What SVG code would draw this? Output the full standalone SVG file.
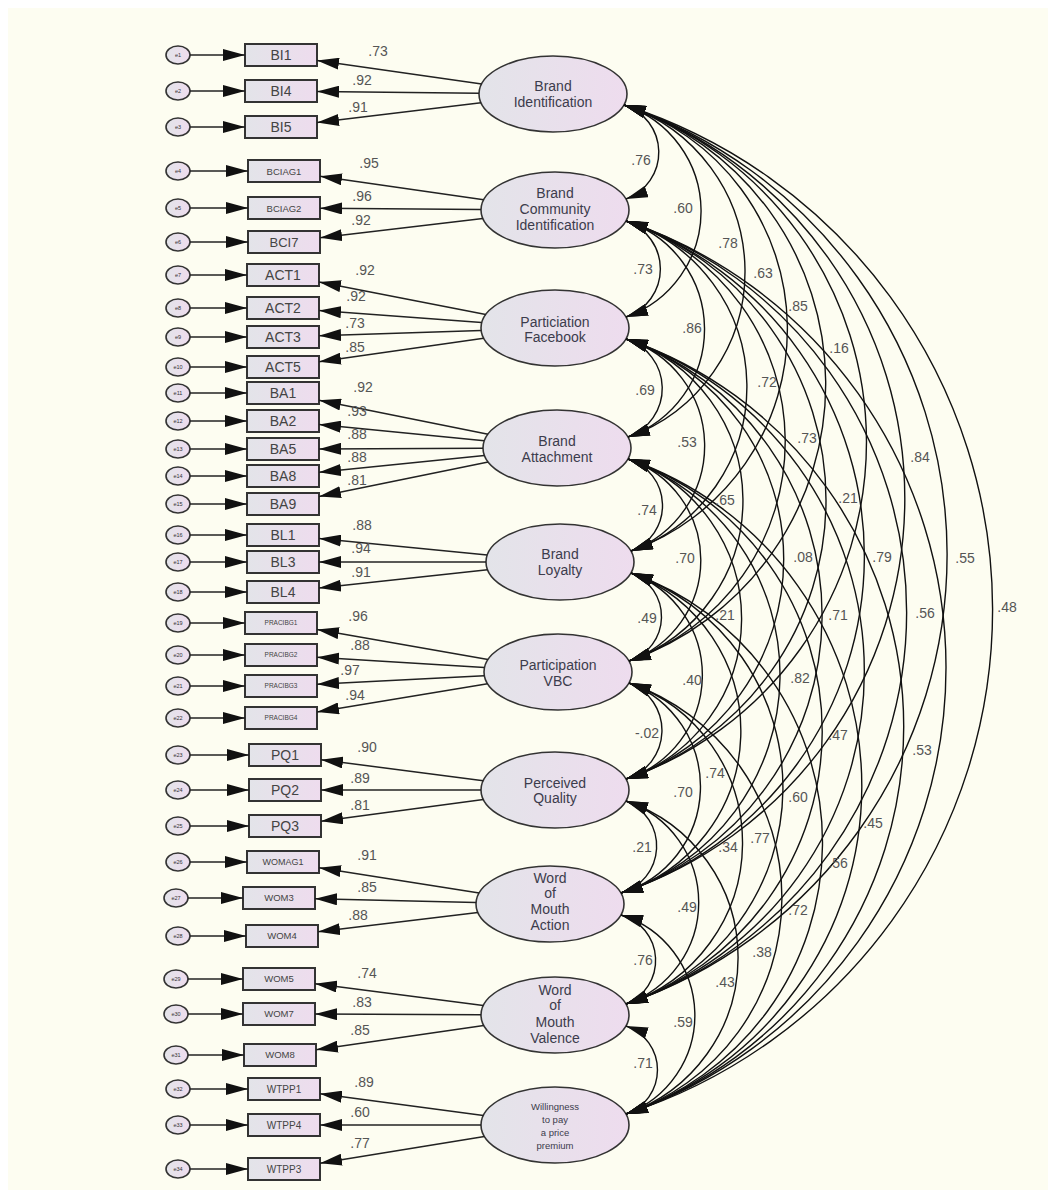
<svg xmlns="http://www.w3.org/2000/svg" width="1055" height="1197" viewBox="0 0 1055 1197">
<defs>
<linearGradient id="fillg" x1="0" y1="0" x2="1" y2="0">
<stop offset="0" stop-color="#e3e4e9"/>
<stop offset="1" stop-color="#eedcee"/>
</linearGradient>
<marker id="ah" viewBox="0 0 22 12" markerWidth="22" markerHeight="12" refX="22" refY="6" orient="auto-start-reverse" markerUnits="userSpaceOnUse">
<path d="M0,0 L22,6 L0,12 Z" fill="#111"/>
</marker>
</defs>
<style>
text{font-family:"Liberation Sans",Arial,sans-serif;text-anchor:middle}
.err{fill:url(#fillg);stroke:#333;stroke-width:1.6}
.box{fill:url(#fillg);stroke:#333;stroke-width:2}
.lat{fill:url(#fillg);stroke:#333;stroke-width:1.6}
.el{font-size:5.5px;fill:#333}
.bl{fill:#444}
.ll{font-size:14px;fill:#3c3c4c}
.lls{font-size:9.5px;fill:#3c3c4c}
.arr{fill:none;stroke:#222;stroke-width:1.5;marker-end:url(#ah)}
.cov{fill:none;stroke:#111;stroke-width:1.4;marker-start:url(#ah);marker-end:url(#ah)}
.lab{font-size:14px;fill:#555}
</style>
<rect width="1055" height="1197" fill="#ffffff"/>
<rect x="8" y="8" width="1040" height="1182" fill="#fdfdf1"/>

<g id="nodes">
<g id="e1"><ellipse class="err" cx="178" cy="55" rx="12" ry="9"/><text class="el" x="178" y="57">e1</text></g>
<g id="e2"><ellipse class="err" cx="178" cy="91" rx="12" ry="9"/><text class="el" x="178" y="93">e2</text></g>
<g id="e3"><ellipse class="err" cx="178" cy="127" rx="12" ry="9"/><text class="el" x="178" y="129">e3</text></g>
<g id="e4"><ellipse class="err" cx="178" cy="171" rx="12" ry="9"/><text class="el" x="178" y="173">e4</text></g>
<g id="e5"><ellipse class="err" cx="178" cy="208" rx="12" ry="9"/><text class="el" x="178" y="210">e5</text></g>
<g id="e6"><ellipse class="err" cx="178" cy="242" rx="12" ry="9"/><text class="el" x="178" y="244">e6</text></g>
<g id="e7"><ellipse class="err" cx="178" cy="275" rx="12" ry="9"/><text class="el" x="178" y="277">e7</text></g>
<g id="e8"><ellipse class="err" cx="178" cy="308" rx="12" ry="9"/><text class="el" x="178" y="310">e8</text></g>
<g id="e9"><ellipse class="err" cx="178" cy="337" rx="12" ry="9"/><text class="el" x="178" y="339">e9</text></g>
<g id="e10"><ellipse class="err" cx="178" cy="367" rx="12" ry="9"/><text class="el" x="178" y="369">e10</text></g>
<g id="e11"><ellipse class="err" cx="178" cy="393" rx="12" ry="9"/><text class="el" x="178" y="395">e11</text></g>
<g id="e12"><ellipse class="err" cx="178" cy="421" rx="12" ry="9"/><text class="el" x="178" y="423">e12</text></g>
<g id="e13"><ellipse class="err" cx="178" cy="449" rx="12" ry="9"/><text class="el" x="178" y="451">e13</text></g>
<g id="e14"><ellipse class="err" cx="178" cy="476" rx="12" ry="9"/><text class="el" x="178" y="478">e14</text></g>
<g id="e15"><ellipse class="err" cx="178" cy="504" rx="12" ry="9"/><text class="el" x="178" y="506">e15</text></g>
<g id="e16"><ellipse class="err" cx="178" cy="535" rx="12" ry="9"/><text class="el" x="178" y="537">e16</text></g>
<g id="e17"><ellipse class="err" cx="178" cy="562" rx="12" ry="9"/><text class="el" x="178" y="564">e17</text></g>
<g id="e18"><ellipse class="err" cx="178" cy="592" rx="12" ry="9"/><text class="el" x="178" y="594">e18</text></g>
<g id="e19"><ellipse class="err" cx="178" cy="623" rx="12" ry="9"/><text class="el" x="178" y="625">e19</text></g>
<g id="e20"><ellipse class="err" cx="178" cy="655" rx="12" ry="9"/><text class="el" x="178" y="657">e20</text></g>
<g id="e21"><ellipse class="err" cx="178" cy="686" rx="12" ry="9"/><text class="el" x="178" y="688">e21</text></g>
<g id="e22"><ellipse class="err" cx="178" cy="718" rx="12" ry="9"/><text class="el" x="178" y="720">e22</text></g>
<g id="e23"><ellipse class="err" cx="178" cy="755" rx="12" ry="9"/><text class="el" x="178" y="757">e23</text></g>
<g id="e24"><ellipse class="err" cx="178" cy="790" rx="12" ry="9"/><text class="el" x="178" y="792">e24</text></g>
<g id="e25"><ellipse class="err" cx="178" cy="826" rx="12" ry="9"/><text class="el" x="178" y="828">e25</text></g>
<g id="e26"><ellipse class="err" cx="178" cy="862" rx="12" ry="9"/><text class="el" x="178" y="864">e26</text></g>
<g id="e27"><ellipse class="err" cx="176" cy="898" rx="12" ry="9"/><text class="el" x="176" y="900">e27</text></g>
<g id="e28"><ellipse class="err" cx="178" cy="936" rx="12" ry="9"/><text class="el" x="178" y="938">e28</text></g>
<g id="e29"><ellipse class="err" cx="176" cy="979" rx="12" ry="9"/><text class="el" x="176" y="981">e29</text></g>
<g id="e30"><ellipse class="err" cx="176" cy="1014" rx="12" ry="9"/><text class="el" x="176" y="1016">e30</text></g>
<g id="e31"><ellipse class="err" cx="176" cy="1055" rx="12" ry="9"/><text class="el" x="176" y="1057">e31</text></g>
<g id="e32"><ellipse class="err" cx="178" cy="1089" rx="12" ry="9"/><text class="el" x="178" y="1091">e32</text></g>
<g id="e33"><ellipse class="err" cx="178" cy="1125" rx="12" ry="9"/><text class="el" x="178" y="1127">e33</text></g>
<g id="e34"><ellipse class="err" cx="178" cy="1169" rx="12" ry="9"/><text class="el" x="178" y="1171">e34</text></g>

<g id="BI1"><rect class="box" x="245" y="44" width="72" height="22"/><text class="bl" x="281" y="60" font-size="14">BI1</text></g>
<g id="BI4"><rect class="box" x="245" y="80" width="72" height="22"/><text class="bl" x="281" y="96" font-size="14">BI4</text></g>
<g id="BI5"><rect class="box" x="245" y="116" width="72" height="22"/><text class="bl" x="281" y="132" font-size="14">BI5</text></g>
<g id="BCIAG1"><rect class="box" x="248" y="160" width="72" height="22"/><text class="bl" x="284" y="174.5" font-size="9.5">BCIAG1</text></g>
<g id="BCIAG2"><rect class="box" x="248" y="197" width="72" height="22"/><text class="bl" x="284" y="211.5" font-size="9.5">BCIAG2</text></g>
<g id="BCI7"><rect class="box" x="248" y="231" width="72" height="22"/><text class="bl" x="284" y="246.5" font-size="13">BCI7</text></g>
<g id="ACT1"><rect class="box" x="247" y="264" width="72" height="22"/><text class="bl" x="283" y="280" font-size="14">ACT1</text></g>
<g id="ACT2"><rect class="box" x="247" y="297" width="72" height="22"/><text class="bl" x="283" y="313" font-size="14">ACT2</text></g>
<g id="ACT3"><rect class="box" x="247" y="326" width="72" height="22"/><text class="bl" x="283" y="342" font-size="14">ACT3</text></g>
<g id="ACT5"><rect class="box" x="247" y="356" width="72" height="22"/><text class="bl" x="283" y="372" font-size="14">ACT5</text></g>
<g id="BA1"><rect class="box" x="247" y="382" width="72" height="22"/><text class="bl" x="283" y="398" font-size="14">BA1</text></g>
<g id="BA2"><rect class="box" x="247" y="410" width="72" height="22"/><text class="bl" x="283" y="426" font-size="14">BA2</text></g>
<g id="BA5"><rect class="box" x="247" y="438" width="72" height="22"/><text class="bl" x="283" y="454" font-size="14">BA5</text></g>
<g id="BA8"><rect class="box" x="247" y="465" width="72" height="22"/><text class="bl" x="283" y="481" font-size="14">BA8</text></g>
<g id="BA9"><rect class="box" x="247" y="493" width="72" height="22"/><text class="bl" x="283" y="509" font-size="14">BA9</text></g>
<g id="BL1"><rect class="box" x="247" y="524" width="72" height="22"/><text class="bl" x="283" y="540" font-size="14">BL1</text></g>
<g id="BL3"><rect class="box" x="247" y="551" width="72" height="22"/><text class="bl" x="283" y="567" font-size="14">BL3</text></g>
<g id="BL4"><rect class="box" x="247" y="581" width="72" height="22"/><text class="bl" x="283" y="597" font-size="14">BL4</text></g>
<g id="PRACIBG1"><rect class="box" x="245" y="612" width="72" height="22"/><text class="bl" x="281" y="625.3" font-size="6.5">PRACIBG1</text></g>
<g id="PRACIBG2"><rect class="box" x="245" y="644" width="72" height="22"/><text class="bl" x="281" y="657.3" font-size="6.5">PRACIBG2</text></g>
<g id="PRACIBG3"><rect class="box" x="245" y="675" width="72" height="22"/><text class="bl" x="281" y="688.3" font-size="6.5">PRACIBG3</text></g>
<g id="PRACIBG4"><rect class="box" x="245" y="707" width="72" height="22"/><text class="bl" x="281" y="720.3" font-size="6.5">PRACIBG4</text></g>
<g id="PQ1"><rect class="box" x="249" y="744" width="72" height="22"/><text class="bl" x="285" y="760" font-size="14">PQ1</text></g>
<g id="PQ2"><rect class="box" x="249" y="779" width="72" height="22"/><text class="bl" x="285" y="795" font-size="14">PQ2</text></g>
<g id="PQ3"><rect class="box" x="249" y="815" width="72" height="22"/><text class="bl" x="285" y="831" font-size="14">PQ3</text></g>
<g id="WOMAG1"><rect class="box" x="247" y="851" width="72" height="22"/><text class="bl" x="283" y="865.2" font-size="9">WOMAG1</text></g>
<g id="WOM3"><rect class="box" x="243" y="887" width="72" height="22"/><text class="bl" x="279" y="901.4" font-size="9.5">WOM3</text></g>
<g id="WOM4"><rect class="box" x="246" y="925" width="72" height="22"/><text class="bl" x="282" y="939.4" font-size="9.5">WOM4</text></g>
<g id="WOM5"><rect class="box" x="243" y="968" width="72" height="22"/><text class="bl" x="279" y="982.4" font-size="9.5">WOM5</text></g>
<g id="WOM7"><rect class="box" x="243" y="1003" width="72" height="22"/><text class="bl" x="279" y="1017.4" font-size="9.5">WOM7</text></g>
<g id="WOM8"><rect class="box" x="244" y="1044" width="72" height="22"/><text class="bl" x="280" y="1058.4" font-size="9.5">WOM8</text></g>
<g id="WTPP1"><rect class="box" x="248" y="1078" width="72" height="22"/><text class="bl" x="284" y="1092.5" font-size="10">WTPP1</text></g>
<g id="WTPP4"><rect class="box" x="248" y="1114" width="72" height="22"/><text class="bl" x="284" y="1128.5" font-size="10">WTPP4</text></g>
<g id="WTPP3"><rect class="box" x="248" y="1158" width="72" height="22"/><text class="bl" x="284" y="1172.5" font-size="10">WTPP3</text></g>

<g id="BrandIdentification"><ellipse class="lat" cx="553" cy="94" rx="74" ry="38"/><text class="ll" x="553" y="91">Brand</text><text class="ll" x="553" y="107">Identification</text></g>
<g id="BrandCommunityIdentification"><ellipse class="lat" cx="555" cy="210" rx="74" ry="38"/><text class="ll" x="555" y="198">Brand</text><text class="ll" x="555" y="214">Community</text><text class="ll" x="555" y="230">Identification</text></g>
<g id="ParticiationFacebook"><ellipse class="lat" cx="555" cy="328" rx="74" ry="38"/><text class="ll" x="555" y="327">Particiation</text><text class="ll" x="555" y="342">Facebook</text></g>
<g id="BrandAttachment"><ellipse class="lat" cx="557" cy="448" rx="74" ry="38"/><text class="ll" x="557" y="446">Brand</text><text class="ll" x="557" y="462">Attachment</text></g>
<g id="BrandLoyalty"><ellipse class="lat" cx="560" cy="562" rx="74" ry="38"/><text class="ll" x="560" y="559">Brand</text><text class="ll" x="560" y="575">Loyalty</text></g>
<g id="ParticipationVBC"><ellipse class="lat" cx="558" cy="672" rx="74" ry="38"/><text class="ll" x="558" y="670">Participation</text><text class="ll" x="558" y="686">VBC</text></g>
<g id="PerceivedQuality"><ellipse class="lat" cx="555" cy="790" rx="74" ry="38"/><text class="ll" x="555" y="788">Perceived</text><text class="ll" x="555" y="803">Quality</text></g>
<g id="WordOfMouthAction"><ellipse class="lat" cx="550" cy="904" rx="74" ry="38"/><text class="ll" x="550" y="883">Word</text><text class="ll" x="550" y="898">of</text><text class="ll" x="550" y="914">Mouth</text><text class="ll" x="550" y="930">Action</text></g>
<g id="WordOfMouthValence"><ellipse class="lat" cx="555" cy="1015" rx="74" ry="38"/><text class="ll" x="555" y="995">Word</text><text class="ll" x="555" y="1010">of</text><text class="ll" x="555" y="1027">Mouth</text><text class="ll" x="555" y="1043">Valence</text></g>
<g id="WillingnessToPay"><ellipse class="lat" cx="555" cy="1125" rx="74" ry="38"/><text class="lls" x="555" y="1110">Willingness</text><text class="lls" x="555" y="1123">to pay</text><text class="lls" x="555" y="1136">a price</text><text class="lls" x="555" y="1149">premium</text></g>
</g>

<g id="connectors">
<path class="arr" d="M190,55 H245"/>
<path class="arr" d="M190,91 H245"/>
<path class="arr" d="M190,127 H245"/>
<path class="arr" d="M190,171 H248"/>
<path class="arr" d="M190,208 H248"/>
<path class="arr" d="M190,242 H248"/>
<path class="arr" d="M190,275 H247"/>
<path class="arr" d="M190,308 H247"/>
<path class="arr" d="M190,337 H247"/>
<path class="arr" d="M190,367 H247"/>
<path class="arr" d="M190,393 H247"/>
<path class="arr" d="M190,421 H247"/>
<path class="arr" d="M190,449 H247"/>
<path class="arr" d="M190,476 H247"/>
<path class="arr" d="M190,504 H247"/>
<path class="arr" d="M190,535 H247"/>
<path class="arr" d="M190,562 H247"/>
<path class="arr" d="M190,592 H247"/>
<path class="arr" d="M190,623 H245"/>
<path class="arr" d="M190,655 H245"/>
<path class="arr" d="M190,686 H245"/>
<path class="arr" d="M190,718 H245"/>
<path class="arr" d="M190,755 H249"/>
<path class="arr" d="M190,790 H249"/>
<path class="arr" d="M190,826 H249"/>
<path class="arr" d="M190,862 H247"/>
<path class="arr" d="M188,898 H243"/>
<path class="arr" d="M190,936 H246"/>
<path class="arr" d="M188,979 H243"/>
<path class="arr" d="M188,1014 H243"/>
<path class="arr" d="M188,1055 H244"/>
<path class="arr" d="M190,1089 H248"/>
<path class="arr" d="M190,1125 H248"/>
<path class="arr" d="M190,1169 H248"/>

<path class="arr" d="M481.7,83.9 L317,60.6"/>
<path class="arr" d="M479,93.2 L317,91.4"/>
<path class="arr" d="M481,102.7 L317,122.6"/>
<path class="arr" d="M483.7,199.7 L320,176.2"/>
<path class="arr" d="M481,209.5 L320,208.3"/>
<path class="arr" d="M482.9,218.5 L320,237.8"/>
<path class="arr" d="M485.8,314.5 L319,282"/>
<path class="arr" d="M481.7,322.6 L319,310.6"/>
<path class="arr" d="M481.1,330.4 L319,335.8"/>
<path class="arr" d="M483.7,338.2 L319,361.8"/>
<path class="arr" d="M488.1,434.2 L319,400.2"/>
<path class="arr" d="M484.3,440.8 L319,424.5"/>
<path class="arr" d="M483,448.3 L319,448.9"/>
<path class="arr" d="M484.4,455.4 L319,472.3"/>
<path class="arr" d="M488.2,462.1 L319,496.6"/>
<path class="arr" d="M487.3,554.9 L319,538.5"/>
<path class="arr" d="M486,562 L319,562"/>
<path class="arr" d="M487.6,569.8 L319,588.1"/>
<path class="arr" d="M488,659.6 L317,629.4"/>
<path class="arr" d="M484.5,667.5 L317,657.2"/>
<path class="arr" d="M484.3,675.7 L317,684.2"/>
<path class="arr" d="M487.6,683.7 L317,712"/>
<path class="arr" d="M483.3,780.7 L321,759.7"/>
<path class="arr" d="M481,790 L321,790"/>
<path class="arr" d="M483.4,799.6 L321,821.2"/>
<path class="arr" d="M479.2,892.9 L319,867.7"/>
<path class="arr" d="M476,902.4 L315,898.8"/>
<path class="arr" d="M477.9,912.6 L318,931.7"/>
<path class="arr" d="M483.3,1005.6 L315,983.7"/>
<path class="arr" d="M481,1014.7 L315,1014.1"/>
<path class="arr" d="M483.8,1025.4 L316,1049.8"/>
<path class="arr" d="M483.4,1115.5 L320,1093.8"/>
<path class="arr" d="M481,1125 L320,1125"/>
<path class="arr" d="M484.4,1136.5 L320,1163.2"/>

<path class="cov" d="M624,105 A49.6,49.6 0 0 1 626,199"/>
<path class="cov" d="M624,105 A111.9,111.9 0 0 1 626,317"/>
<path class="cov" d="M624,105 A175.3,175.3 0 0 1 628,437"/>
<path class="cov" d="M624,105 A235.5,235.5 0 0 1 631,551"/>
<path class="cov" d="M624,105 A293.6,293.6 0 0 1 629,661"/>
<path class="cov" d="M624,105 A355.9,355.9 0 0 1 626,779"/>
<path class="cov" d="M624,105 A416.1,416.1 0 0 1 621,893"/>
<path class="cov" d="M624,105 A474.7,474.7 0 0 1 626,1004"/>
<path class="cov" d="M624,105 A530,530 0 0 1 626,1114"/>
<path class="cov" d="M626,221 A50.7,50.7 0 0 1 626,317"/>
<path class="cov" d="M626,221 A114,114 0 0 1 628,437"/>
<path class="cov" d="M626,221 A174.2,174.2 0 0 1 631,551"/>
<path class="cov" d="M626,221 A232.3,232.3 0 0 1 629,661"/>
<path class="cov" d="M626,221 A294.6,294.6 0 0 1 626,779"/>
<path class="cov" d="M626,221 A354.8,354.8 0 0 1 621,893"/>
<path class="cov" d="M626,221 A413.4,413.4 0 0 1 626,1004"/>
<path class="cov" d="M626,221 A471.5,471.5 0 0 1 626,1114"/>
<path class="cov" d="M626,339 A51.7,51.7 0 0 1 628,437"/>
<path class="cov" d="M626,339 A111.9,111.9 0 0 1 631,551"/>
<path class="cov" d="M626,339 A170,170 0 0 1 629,661"/>
<path class="cov" d="M626,339 A232.3,232.3 0 0 1 626,779"/>
<path class="cov" d="M626,339 A292.5,292.5 0 0 1 621,893"/>
<path class="cov" d="M626,339 A351.1,351.1 0 0 1 626,1004"/>
<path class="cov" d="M626,339 A409.2,409.2 0 0 1 626,1114"/>
<path class="cov" d="M628,459 A48.6,48.6 0 0 1 631,551"/>
<path class="cov" d="M628,459 A106.7,106.7 0 0 1 629,661"/>
<path class="cov" d="M628,459 A169,169 0 0 1 626,779"/>
<path class="cov" d="M628,459 A229.2,229.2 0 0 1 621,893"/>
<path class="cov" d="M628,459 A287.8,287.8 0 0 1 626,1004"/>
<path class="cov" d="M628,459 A345.8,345.8 0 0 1 626,1114"/>
<path class="cov" d="M631,573 A46.5,46.5 0 0 1 629,661"/>
<path class="cov" d="M631,573 A108.8,108.8 0 0 1 626,779"/>
<path class="cov" d="M631,573 A169,169 0 0 1 621,893"/>
<path class="cov" d="M631,573 A227.6,227.6 0 0 1 626,1004"/>
<path class="cov" d="M631,573 A285.6,285.6 0 0 1 626,1114"/>
<path class="cov" d="M629,683 A50.7,50.7 0 0 1 626,779"/>
<path class="cov" d="M629,683 A110.9,110.9 0 0 1 621,893"/>
<path class="cov" d="M629,683 A169.5,169.5 0 0 1 626,1004"/>
<path class="cov" d="M629,683 A227.6,227.6 0 0 1 626,1114"/>
<path class="cov" d="M626,801 A48.6,48.6 0 0 1 621,893"/>
<path class="cov" d="M626,801 A107.2,107.2 0 0 1 626,1004"/>
<path class="cov" d="M626,801 A165.3,165.3 0 0 1 626,1114"/>
<path class="cov" d="M621,915 A47,47 0 0 1 626,1004"/>
<path class="cov" d="M621,915 A105.1,105.1 0 0 1 626,1114"/>
<path class="cov" d="M626,1026 A46.5,46.5 0 0 1 626,1114"/>
</g>

<g id="loading-labels" class="lab">
<text x="378" y="56">.73</text>
<text x="362" y="85">.92</text>
<text x="358" y="112">.91</text>
<text x="369" y="168">.95</text>
<text x="362" y="201">.96</text>
<text x="361" y="225">.92</text>
<text x="365" y="275">.92</text>
<text x="356" y="301">.92</text>
<text x="355" y="328">.73</text>
<text x="355" y="352">.85</text>
<text x="363" y="392">.92</text>
<text x="357" y="416">.93</text>
<text x="357" y="439">.88</text>
<text x="357" y="462">.88</text>
<text x="357" y="485">.81</text>
<text x="362" y="530">.88</text>
<text x="361" y="553">.94</text>
<text x="361" y="577">.91</text>
<text x="358" y="621">.96</text>
<text x="360" y="650">.88</text>
<text x="350" y="675">.97</text>
<text x="355" y="700">.94</text>
<text x="367" y="752">.90</text>
<text x="360" y="783">.89</text>
<text x="360" y="810">.81</text>
<text x="367" y="860">.91</text>
<text x="367" y="892">.85</text>
<text x="358" y="920">.88</text>
<text x="367" y="978">.74</text>
<text x="362" y="1007">.83</text>
<text x="360" y="1035">.85</text>
<text x="364" y="1087">.89</text>
<text x="360" y="1117">.60</text>
<text x="360" y="1148">.77</text>
</g>

<g id="covariance-labels" class="lab">
<text x="641" y="165">.76</text>
<text x="683" y="213">.60</text>
<text x="728" y="248">.78</text>
<text x="763" y="278">.63</text>
<text x="798" y="311">.85</text>
<text x="839" y="353">.16</text>
<text x="920" y="462">.84</text>
<text x="643" y="274">.73</text>
<text x="692" y="333">.86</text>
<text x="767" y="387">.72</text>
<text x="807" y="443">.73</text>
<text x="645" y="395">.69</text>
<text x="687" y="447">.53</text>
<text x="647" y="515">.74</text>
<text x="725" y="505">.65</text>
<text x="848" y="503">.21</text>
<text x="685" y="563">.70</text>
<text x="803" y="562">.08</text>
<text x="882" y="562">.79</text>
<text x="965" y="563">.55</text>
<text x="1007" y="612">.48</text>
<text x="647" y="623">.49</text>
<text x="725" y="620">.21</text>
<text x="838" y="620">.71</text>
<text x="925" y="618">.56</text>
<text x="692" y="685">.40</text>
<text x="800" y="683">.82</text>
<text x="647" y="738">-.02</text>
<text x="838" y="740">.47</text>
<text x="922" y="755">.53</text>
<text x="715" y="778">.74</text>
<text x="683" y="797">.70</text>
<text x="798" y="802">.60</text>
<text x="873" y="828">.45</text>
<text x="642" y="852">.21</text>
<text x="728" y="852">.34</text>
<text x="760" y="843">.77</text>
<text x="838" y="868">.56</text>
<text x="687" y="912">.49</text>
<text x="798" y="915">.72</text>
<text x="643" y="965">.76</text>
<text x="762" y="957">.38</text>
<text x="725" y="987">.43</text>
<text x="683" y="1027">.59</text>
<text x="643" y="1068">.71</text>
</g>
</svg>
